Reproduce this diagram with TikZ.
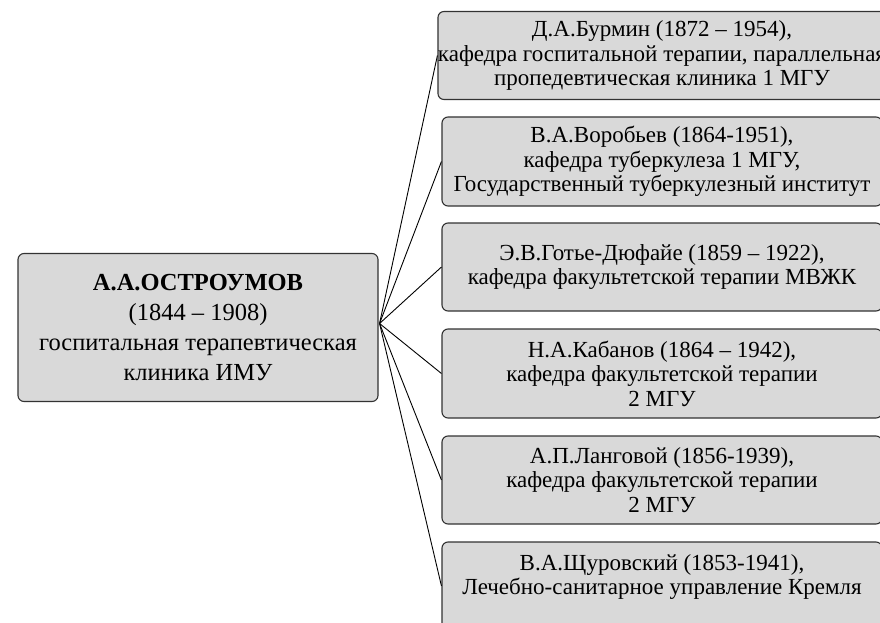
\documentclass[tikz,border=0pt]{standalone}
\usepackage{fontspec}
\setmainfont{Liberation Serif}
\usetikzlibrary{calc}
\definecolor{boxfill}{HTML}{D9D9D9}
\definecolor{boxline}{HTML}{333333}
\tikzset{
  mainbox/.style={draw=boxline, fill=boxfill, line width=1.1pt, rounded corners=6pt,
    minimum width=360pt, minimum height=148pt, align=center,
    font=\fontsize{24.5}{30}\selectfont, inner sep=0pt},
  sidebox/.style={draw=boxline, fill=boxfill, line width=1.1pt, rounded corners=6pt,
    minimum width=440pt, minimum height=88pt, align=center,
    font=\fontsize{23}{24.5}\selectfont, inner sep=0pt},
  sidetext/.style={align=center, font=\fontsize{23}{24}\selectfont, inner sep=0pt},
  link/.style={draw=black, line width=0.9pt}
}
\begin{document}
\begin{tikzpicture}[x=1pt, y=-1pt]
\useasboundingbox (0,0) rectangle (880,623);
\begin{scope}
\clip (0,0) rectangle (880,623);
% root node
\node[mainbox] (src) at (198,327.5)
  {\textbf{А.А.ОСТРОУМОВ}\\(1844 – 1908)\\госпитальная терапевтическая\\клиника ИМУ};
% pupils
\node[sidebox] (b1) at (662,55.5)
  {Д.А.Бурмин (1872 – 1954),\\кафедра госпитальной терапии, параллельная\\пропедевтическая клиника 1 МГУ};
\node[sidebox, minimum height=89pt] (b2) at (662,161.5)
  {В.А.Воробьев (1864-1951),\\кафедра туберкулеза 1 МГУ,\\Государственный туберкулезный институт};
\node[sidebox] (b3) at (662,267)
  {Э.В.Готье-Дюфайе (1859 – 1922),\\кафедра факультетской терапии МВЖК};
\node[sidebox, minimum height=89pt] (b4) at (662,373.5)
  {Н.А.Кабанов (1864 – 1942),\\кафедра факультетской терапии\\2 МГУ};
\node[sidebox] (b5) at (662,480)
  {А.П.Ланговой (1856-1939),\\кафедра факультетской терапии\\2 МГУ};
\node[sidebox] (b6) at (662,586) {};
\node[sidetext] (b6t) at (662,577)
  {В.А.Щуровский (1853-1941),\\Лечебно-санитарное управление Кремля};
% connectors
\coordinate (hub) at ($(src.east)+(1,-4)$);
\foreach \b in {b1,b2,b3,b4,b5,b6}
  \draw[link] (hub) -- (\b.west);
\end{scope}
\end{tikzpicture}
\end{document}
